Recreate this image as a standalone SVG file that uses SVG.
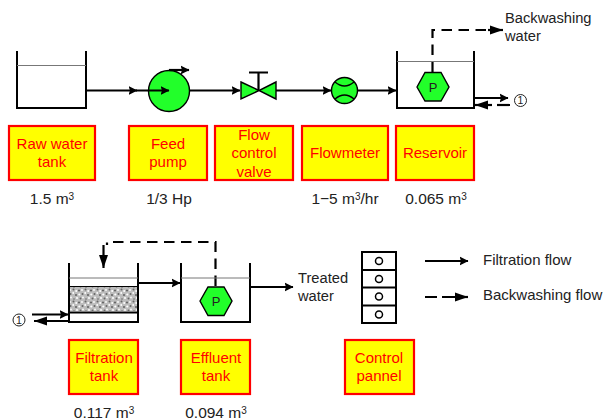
<svg xmlns="http://www.w3.org/2000/svg" width="604" height="420" viewBox="0 0 604 420">
<style>
text{font-family:"Liberation Sans",Arial,sans-serif}
.box{fill:#ffff00;stroke:#ff0000;stroke-width:2.200}
.bl{fill:#ff0000;font-size:15px;text-anchor:middle}
.t{fill:#222;font-size:14.7px}
.lg{fill:#222;font-size:15px}
.m{fill:#222;font-size:15.5px;text-anchor:middle}
.sup{font-size:10px}
.tank{fill:none;stroke:#000;stroke-width:2}
.lvl{fill:none;stroke:#777;stroke-width:1}
.ln{fill:none;stroke:#000;stroke-width:2.200}
.da{fill:none;stroke:#000;stroke-width:2.200;stroke-dasharray:10.500 6.500}
.g{fill:#22ff2a;stroke:#000;stroke-width:1.400}
.num{fill:none;stroke:#222;stroke-width:1}
.nt{fill:#222;font-size:10.500px;text-anchor:middle}
</style>
<defs>
<marker id="a" markerUnits="userSpaceOnUse" markerWidth="10" markerHeight="10" refX="8.500" refY="5" orient="auto"><path d="M0 .5L9 5L0 9.500L1.500 5Z" fill="#000"/></marker>
<marker id="b" markerUnits="userSpaceOnUse" markerWidth="14" markerHeight="10" refX="13" refY="5" orient="auto"><path d="M0 .5L13 5L0 9.500Z" fill="#000"/></marker>
<pattern id="sand" width="12" height="12" patternUnits="userSpaceOnUse"><rect width="12" height="12" fill="#bdbdbd"/><g fill="#666"><circle cx="1.500" cy="1.500" r="1"/><circle cx="7" cy="2.500" r="1.100"/><circle cx="10.500" cy="6" r="1"/><circle cx="4" cy="7" r="1.100"/><circle cx="8.500" cy="10.500" r="1"/><circle cx="2" cy="11" r=".8"/></g><g fill="#fff"><circle cx="4.200" cy="3" r="1"/><circle cx="10" cy="2" r=".9"/><circle cx="7.300" cy="6.500" r="1.100"/><circle cx="1.200" cy="5" r=".9"/><circle cx="5" cy="10" r="1"/><circle cx="11" cy="9.500" r=".9"/></g></pattern>
</defs>
<g id="connectors">
<path class="ln" d="M87 90.500H137" marker-end="url(#a)"/>
<path class="ln" d="M190 90.500H240" marker-end="url(#a)"/>
<path class="ln" d="M276 90.500H331" marker-end="url(#a)"/>
<path class="ln" d="M358 90.500H396" marker-end="url(#a)"/>
<path class="da" d="M432.500 72V30H490"/>
<path class="ln" d="M488 30H503" marker-end="url(#b)"/>
<path class="ln" d="M475 98H508" marker-end="url(#a)"/>
<path class="ln" d="M510 105H497"/>
<path class="ln" d="M492 105H475" marker-end="url(#b)"/>
<path class="da" d="M215.500 286V242H107V245"/>
<path class="ln" d="M103.500 245V268" marker-end="url(#b)"/>
<path class="ln" d="M138 283H180" marker-end="url(#a)"/>
<path class="ln" d="M250 287H293" marker-end="url(#a)"/>
<path class="ln" d="M32 314.500H68" marker-end="url(#a)"/>
<path class="ln" d="M68 321H34" marker-end="url(#b)"/>
<path class="ln" d="M425 261H468" marker-end="url(#a)"/>
<path class="ln" d="M425 297H437M442 297H455"/>
<path class="ln" d="M455 297H468" marker-end="url(#b)"/>
</g>
<g id="raw-water-tank">
<path class="tank" d="M17 51V108H86V51"/><path class="lvl" d="M17 65.500H86"/>
<rect class="box" x="9" y="126" width="86" height="54"/>
<text class="bl" x="52" y="149">Raw water</text><text class="bl" x="52" y="167">tank</text>
<text class="m" x="52" y="204">1.5 m<tspan class="sup" dy="-4">3</tspan></text>
</g>
<g id="feed-pump">
<circle class="g" cx="169" cy="91" r="20.500"/>
<path class="ln" d="M136 90.500H169" marker-end="url(#a)"/>
<path class="ln" d="M169 70H189" marker-end="url(#a)"/>
<rect class="box" x="129" y="126" width="78" height="54"/>
<text class="bl" x="168" y="149">Feed</text><text class="bl" x="168" y="167">pump</text>
<text class="m" x="169" y="204">1/3 Hp</text>
</g>
<g id="flow-control-valve">
<path class="g" d="M241 82L259 90.500L241 99ZM276 82L259 90.500L276 99Z"/>
<path d="M258.500 90V72.500M249 72.500H268" fill="none" stroke="#000" stroke-width="2.200"/>
<rect class="box" x="215" y="126" width="78" height="54"/>
<text class="bl" x="254" y="140">Flow</text><text class="bl" x="254" y="158">control</text><text class="bl" x="254" y="177">valve</text>
</g>
<g id="flowmeter">
<circle class="g" cx="344.500" cy="90.500" r="13"/>
<path d="M335 82Q344.500 90 354 82M335 99Q344.500 91 354 99" fill="none" stroke="#000" stroke-width="1.400"/>
<rect class="box" x="302" y="126" width="86" height="54"/>
<text class="bl" x="345" y="158">Flowmeter</text>
<text class="m" x="345" y="204">1−5 m<tspan class="sup" dy="-4">3</tspan><tspan dy="4">/hr</tspan></text>
</g>
<g id="reservoir">
<path class="tank" d="M397 51V108H474V51"/><path class="lvl" d="M397 61.500H474"/>
<path class="g" d="M417 87L425 72.500H441L449 87L441 101H425Z"/>
<text x="433" y="92" font-size="13" text-anchor="middle" fill="#222">P</text>
<rect class="box" x="396" y="126" width="78" height="54"/>
<text class="bl" x="435" y="158">Reservoir</text>
<text class="m" x="436" y="204">0.065 m<tspan class="sup" dy="-4">3</tspan></text>
<text class="t" x="505" y="23">Backwashing</text><text class="t" x="505" y="41">water</text>
<circle class="num" cx="520.500" cy="100.500" r="6"/><text class="nt" x="520.500" y="104.300">1</text>
</g>
<g id="filtration-tank">
<rect x="69" y="287" width="69" height="24" fill="url(#sand)"/>
<path class="tank" d="M69 263V322H138V263M69 312.500H138"/><path class="lvl" d="M69 278H138"/><path d="M69 286.500H138" stroke="#000" stroke-width="1.200"/>
<rect class="box" x="69" y="340" width="69" height="54"/>
<text class="bl" x="104" y="363">Filtration</text><text class="bl" x="104" y="381">tank</text>
<text class="m" x="104" y="418">0.117 m<tspan class="sup" dy="-4">3</tspan></text>
<circle class="num" cx="19" cy="320" r="6"/><text class="nt" x="19" y="323.800">1</text>
</g>
<g id="effluent-tank">
<path class="tank" d="M181 263V322H250V263"/><path class="lvl" d="M181 278H250"/>
<path class="g" d="M200 301L208 287H224L232 301L224 315.500H208Z"/>
<text x="216" y="306" font-size="13" text-anchor="middle" fill="#222">P</text>
<rect class="box" x="181" y="340" width="69" height="54"/>
<text class="bl" x="216" y="363">Effluent</text><text class="bl" x="216" y="381">tank</text>
<text class="m" x="216" y="418">0.094 m<tspan class="sup" dy="-4">3</tspan></text>
<text class="t" x="298" y="283">Treated</text><text class="t" x="298" y="301">water</text>
</g>
<g id="control-panel">
<rect x="362" y="252" width="34" height="71" fill="#fff" stroke="#000" stroke-width="2"/>
<path d="M362 270H396M362 287.500H396M362 305.500H396" stroke="#000" stroke-width="2"/>
<g fill="#fff" stroke="#000" stroke-width="1.500"><circle cx="379" cy="261" r="3.500"/><circle cx="379" cy="279" r="3.500"/><circle cx="379" cy="296.500" r="3.500"/><circle cx="379" cy="314.500" r="3.500"/></g>
<rect class="box" x="345" y="340" width="69" height="54"/>
<text class="bl" x="379" y="363">Control</text><text class="bl" x="379" y="381">pannel</text>
</g>
<g id="legend">
<text class="lg" x="483" y="265">Filtration flow</text>
<text class="lg" x="483" y="300">Backwashing flow</text>
</g>
</svg>
